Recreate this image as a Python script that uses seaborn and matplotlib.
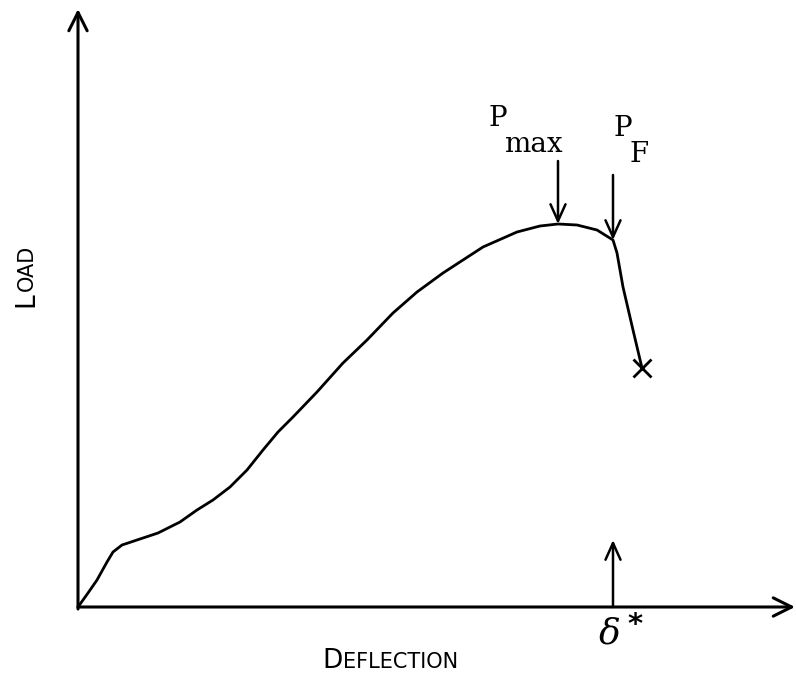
# Load vs deflection sketch (P_max, P_F and fracture deflection)

import matplotlib
matplotlib.use("Agg")
import matplotlib.pyplot as plt
import pandas as pd
import seaborn as sns

# Curve (arbitrary units)
deflection = [0, 10, 19, 29, 35, 44, 59, 80, 102, 119, 135, 152, 169, 185, 200,
              215, 239, 265, 289, 315, 339, 365, 405, 439, 462, 480, 499, 519,
              535, 539, 545, 555, 564]
load = [0, 14, 27, 45, 55, 62, 67, 74, 85, 97, 107, 120, 137, 157, 175,
        190, 215, 244, 267, 294, 315, 334, 360, 375, 381, 383, 382, 377,
        367, 354, 320, 277, 239]

i_max = 25      # P_max point
i_f = 28        # P_F point (fracture onset)

df = pd.DataFrame({"Deflection": deflection, "Load": load})

sns.set_style("white")
plt.rcParams["text.color"] = "black"

fig = plt.figure(figsize=(7.96, 6.77), dpi=100)
ax = fig.add_axes([0, 0, 1, 1])
ax.set_xlim(-78, 718)
ax.set_ylim(-70, 607)
ax.axis("off")

sns.lineplot(data=df, x="Deflection", y="Load", sort=False, color="black",
             lw=2, ax=ax, legend=False)
for line in ax.lines:
    line.set_solid_joinstyle("round")
    line.set_solid_capstyle("round")
ax.plot(deflection[-1], load[-1], marker="x", color="black", ms=13, mew=2)

# axes as arrows
ax.annotate("", xy=(717, 0), xytext=(0, 0),
            arrowprops=dict(arrowstyle="->,head_length=1.1,head_width=0.55",
                            lw=2.2, color="black", shrinkA=0, shrinkB=0,
                            mutation_scale=12))
ax.annotate("", xy=(0, 598), xytext=(0, -2),
            arrowprops=dict(arrowstyle="->,head_length=1.1,head_width=0.55",
                            lw=2.2, color="black", shrinkA=0, shrinkB=0,
                            mutation_scale=12))

arrow = dict(arrowstyle="->,head_length=1.0,head_width=0.45", lw=1.8,
             color="black", shrinkA=0, shrinkB=0, mutation_scale=12)

# P_max
ax.annotate("", xy=(deflection[i_max], load[i_max]),
            xytext=(deflection[i_max], load[i_max] + 63), arrowprops=arrow)
ax.text(deflection[i_max] - 60, 489, "P", family="DejaVu Serif",
        fontsize=20, ha="center", va="center")
ax.text(deflection[i_max] - 25, 462, "max", family="DejaVu Serif",
        fontsize=20, ha="center", va="center")

# P_F
ax.annotate("", xy=(deflection[i_f], load[i_f]),
            xytext=(deflection[i_f], load[i_f] + 65), arrowprops=arrow)
ax.text(deflection[i_f] + 10, 478, "P", family="DejaVu Serif",
        fontsize=20, ha="center", va="center")
ax.text(deflection[i_f] + 26, 453, "F", family="DejaVu Serif",
        fontsize=20, ha="center", va="center")

# delta*
ax.annotate("", xy=(deflection[i_f], 67), xytext=(deflection[i_f], 0),
            arrowprops=arrow)
ax.text(deflection[i_f] - 3, -27, "\u03b4", family="DejaVu Serif",
        style="italic", fontsize=26, ha="center", va="center")
ax.text(deflection[i_f] + 22, -18, "*", family="DejaVu Sans",
        fontsize=21, ha="center", va="center", fontweight="bold")

# small-caps axis labels
cap_font = "DejaVu Sans"
fig.canvas.draw()
renderer = fig.canvas.get_renderer()
inv = ax.transData.inverted()

t = ax.text(244, -61, "D", family=cap_font, fontsize=19,
            ha="left", va="baseline")
bb = t.get_window_extent(renderer)
x1 = inv.transform((bb.x1 + 1, 0))[0]
ax.text(x1, -61, "EFLECTION", family=cap_font, fontsize=15,
        ha="left", va="baseline")

t = ax.text(-45, 300, "L", family=cap_font, fontsize=19, rotation=90,
            rotation_mode="anchor", ha="left", va="baseline")
bb = t.get_window_extent(renderer)
y1 = inv.transform((0, bb.y1 + 1))[1]
ax.text(-45, y1, "OAD", family=cap_font, fontsize=15, rotation=90,
        rotation_mode="anchor", ha="left", va="baseline")

fig.savefig("out.png", dpi=100)
